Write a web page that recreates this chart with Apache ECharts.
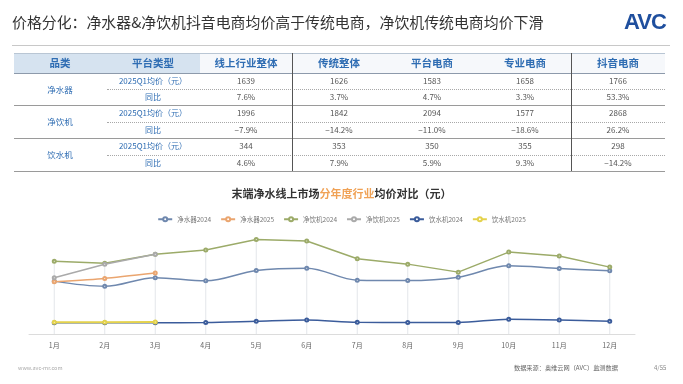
<!DOCTYPE html>
<html><head><meta charset="utf-8">
<script src="https://cdn.jsdelivr.net/npm/echarts@6/dist/echarts.min.js"></script>
<style>
html,body{margin:0;padding:0;background:#fff;width:683px;height:384px;overflow:hidden;font-family:"Noto Sans CJK SC","Noto Sans",sans-serif;}
#chart{position:absolute;left:0;top:0;width:683px;height:384px;}
.abs{position:absolute;white-space:nowrap;}
#layer{position:absolute;left:0;top:0;width:683px;height:384px;pointer-events:none;}
.cell{position:absolute;text-align:center;white-space:nowrap;}
</style></head>
<body>
<div id="chart"></div>
<div id="layer"></div>
<script>
// ---------- DATA ----------
var slideTitle = "价格分化：净水器&净饮机抖音电商均价高于传统电商，净饮机传统电商均价下滑";
var tableHeaders = ["品类", "平台类型", "线上行业整体", "传统整体", "平台电商", "专业电商", "抖音电商"];
var tableCategories = ["净水器", "净饮机", "饮水机"];
var rowTypes = ["2025Q1均价（元）", "同比"];
var purifierPrice = ["1639", "1626", "1583", "1658", "1766"];
var purifierYoY = ["7.6%", "3.7%", "4.7%", "3.3%", "53.3%"];
var drinkPurifierPrice = ["1996", "1842", "2094", "1577", "2868"];
var drinkPurifierYoY = ["−7.9%", "−14.2%", "−11.0%", "−18.6%", "26.2%"];
var dispenserPrice = ["344", "353", "350", "355", "298"];
var dispenserYoY = ["4.6%", "7.9%", "5.9%", "9.3%", "−14.2%"];

var months = ["1月","2月","3月","4月","5月","6月","7月","8月","9月","10月","11月","12月"];
var seriesNames = ["净水器2024","净水器2025","净饮机2024","净饮机2025","饮水机2024","饮水机2025"];
var purifier2024 = [1540,1390,1640,1548,1848,1918,1568,1556,1656,1986,1907,1840];
var purifier2025 = [1520,1620,1777];
var drinkPurifier2024 = [2120,2060,2320,2444,2754,2707,2190,2035,1802,2386,2269,1948];
var drinkPurifier2025 = [1640,2030,2320];
var dispenser2024 = [330,328,330,333,371,409,342,336,336,429,409,371];
var dispenser2025 = [340,345,347];

// ---------- HTML LAYER (slide title, table, footer) ----------
var layer = document.getElementById('layer');
function add(html, style, cls){
  var d = document.createElement('div');
  d.className = cls || 'abs';
  d.innerHTML = html;
  d.setAttribute('style', style);
  layer.appendChild(d);
  return d;
}
add(slideTitle, 'left:12px;top:12px;font-size:14.9px;color:#333;line-height:20px;');
add('AVC', 'left:624px;top:9px;font-family:"Liberation Sans",Arial,sans-serif;font-weight:900;font-size:22px;color:#1f4f9e;letter-spacing:-1px;line-height:26px;');
add('', 'left:12px;top:45px;width:658px;height:0;border-top:1.5px solid #c8c8c8;');

var colX = [13.5,106.5,199.5,292.5,385.5,478.5,571.5,664.5];
var headTop = 53, headBot = 72.5;
var rowH = 16.4;
add('', 'left:'+colX[0]+'px;top:'+headTop+'px;width:'+(colX[2]-colX[0])+'px;height:'+(headBot-headTop)+'px;background:#d6e3f0;');
add('', 'left:'+colX[2]+'px;top:'+headTop+'px;width:'+(colX[7]-colX[2])+'px;height:'+(headBot-headTop)+'px;background:#f6f8fb;');
add('', 'left:'+colX[0]+'px;top:'+headTop+'px;width:'+(colX[7]-colX[0])+'px;height:0;border-top:1px solid #b9c6d4;');
for (var i=0;i<tableHeaders.length;i++){
  add(tableHeaders[i], 'left:'+colX[i]+'px;width:'+(colX[i+1]-colX[i])+'px;top:'+headTop+'px;line-height:'+(headBot-headTop)+'px;font-size:10.5px;color:#2f6db3;font-weight:bold;', 'cell');
}
add('', 'left:'+colX[0]+'px;top:'+headBot+'px;width:'+(colX[7]-colX[0])+'px;height:0;border-top:1.5px solid #8d9aab;');
var valueRows = [[purifierPrice,purifierYoY],[drinkPurifierPrice,drinkPurifierYoY],[dispenserPrice,dispenserYoY]];
for (var c=0;c<tableCategories.length;c++){
  var top0 = headBot + c*2*rowH;
  add(tableCategories[c], 'left:'+colX[0]+'px;width:'+(colX[1]-colX[0])+'px;top:'+top0+'px;line-height:'+(2*rowH)+'px;font-size:8.5px;color:#2f6db3;', 'cell');
  for (var r=0;r<2;r++){
    var t = top0 + r*rowH;
    add(rowTypes[r], 'left:'+colX[1]+'px;width:'+(colX[2]-colX[1])+'px;top:'+t+'px;line-height:'+rowH+'px;font-size:8px;color:#2f6db3;', 'cell');
    var vals = valueRows[c][r];
    for (var k=0;k<vals.length;k++){
      add(vals[k], 'left:'+colX[k+2]+'px;width:'+(colX[k+3]-colX[k+2])+'px;top:'+t+'px;line-height:'+rowH+'px;font-size:8px;color:#555;', 'cell');
    }
  }
  add('', 'left:'+colX[1]+'px;top:'+(top0+rowH)+'px;width:'+(colX[7]-colX[1])+'px;height:0;border-top:1px dotted #a8a8a8;');
  add('', 'left:'+colX[0]+'px;top:'+(top0+2*rowH)+'px;width:'+(colX[7]-colX[0])+'px;height:0;border-top:1.3px solid #9a9a9a;');
}
var tblBot = headBot + 6*rowH;
add('', 'left:292px;top:'+headTop+'px;width:0;height:'+(tblBot-headTop)+'px;border-left:1px solid #555;');
add('', 'left:571px;top:'+headTop+'px;width:0;height:'+(tblBot-headTop)+'px;border-left:1px solid #555;');

add('www.avc-mr.com', 'left:18px;top:363px;font-size:5.5px;color:#aaa;line-height:10px;');
add('数据来源：奥维云网（AVC）监测数据', 'left:514px;top:363px;font-size:6.2px;color:#666;line-height:10px;');
add('4/55', 'left:654px;top:363px;font-size:6px;color:#888;line-height:10px;');

// ---------- CHART ----------
var allSeriesData = [purifier2024,purifier2025,drinkPurifier2024,drinkPurifier2025,dispenser2024,dispenser2025];
var dropData = months.map(function(m,i){
  var mx = 0;
  allSeriesData.forEach(function(a){ if (a[i]!=null && a[i]>mx) mx=a[i]; });
  return mx;
});
var colors = ['#6f88ae','#eaa56f','#9cab69','#aaaaaa','#3b5c9b','#e4d24c'];
var smoothFlags = [0.35,0.2,false,false,0.3,false];
var chart = echarts.init(document.getElementById('chart'), null, {renderer:'canvas'});
var series = [{
  type:'bar', name:'drop', data:dropData, barWidth:1, silent:true, z:1,
  itemStyle:{color:'#e3e6ea'}
}];
for (var s=0;s<seriesNames.length;s++){
  series.push({
    type:'line', name:seriesNames[s], data:allSeriesData[s], smooth:smoothFlags[s],
    symbol:'emptyCircle', symbolSize:3, showSymbol:true,
    lineStyle:{width:s===5?2:1.5, color:colors[s]},
    itemStyle:{color:colors[s], borderWidth:1},
    z:3+s
  });
}
chart.setOption({
  animation:false,
  title:{
    text:'{a|末端净水线上市场}{b|分年度行业}{a|均价对比（元）}',
    left:'center', top:183,
    textStyle:{rich:{
      a:{fontSize:11,fontWeight:'bold',color:'#333',fontFamily:'Noto Sans CJK SC'},
      b:{fontSize:11,fontWeight:'bold',color:'#f0a256',fontFamily:'Noto Sans CJK SC'}
    }}
  },
  legend:{
    data:seriesNames, top:211, left:'center',
    itemWidth:14, itemHeight:5, itemGap:9,
    textStyle:{fontSize:6.5,color:'#777',fontFamily:'Noto Sans CJK SC'}
  },
  grid:{left:29,right:48,top:231,bottom:50,containLabel:false},
  xAxis:{
    type:'category', data:months, boundaryGap:true,
    axisLine:{lineStyle:{color:'#dcdcdc',width:1}},
    axisTick:{show:false},
    axisLabel:{fontSize:7,color:'#666',margin:8,fontFamily:'Noto Sans CJK SC'}
  },
  yAxis:{type:'value', min:0, max:3000, show:false, splitLine:{show:false}},
  series:series
});
</script>
</body></html>
